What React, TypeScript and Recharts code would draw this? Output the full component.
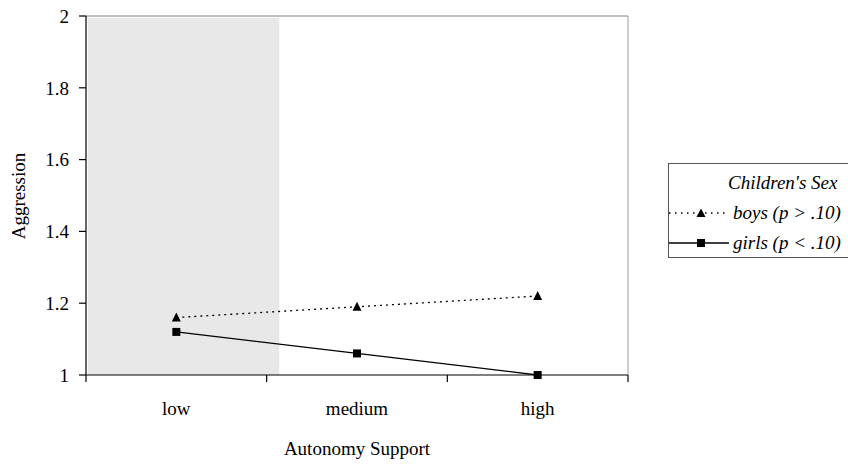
import {
  ComposedChart,
  Line,
  XAxis,
  YAxis,
  ReferenceArea,
  ReferenceLine,
  Label,
} from 'recharts'

const levels = ['low', 'medium', 'high']
const boys = [1.16, 1.19, 1.22]
const girls = [1.12, 1.06, 1.0]
const yTicks = [1, 1.2, 1.4, 1.6, 1.8, 2]
const bandTicks = [0, 1, 2, 3]
const labelTicks = [0.5, 1.5, 2.5]

// each level sits in the middle of its band on a 0..3 axis
const data = levels.map((level, i) => ({ pos: i + 0.5, level, boys: boys[i], girls: girls[i] }))

const serif = 'Liberation Serif'

const Triangle = (props: any) => {
  const { cx, cy } = props
  if (cx == null || cy == null) return null
  return <path d={`M${cx},${cy - 5} L${cx + 4.5},${cy + 4} L${cx - 4.5},${cy + 4} Z`} fill='#000' />
}

const Square = (props: any) => {
  const { cx, cy } = props
  if (cx == null || cy == null) return null
  return <rect x={cx - 4} y={cy - 4} width={8} height={8} fill='#000' />
}

// tick mark only, no text
const BandTick = (props: any) => {
  const { x, y } = props
  return <line x1={x} y1={y - 7} x2={x} y2={y} stroke='#000' strokeWidth={1.2} />
}

function LegendBox() {
  const row = { display: 'flex', alignItems: 'center', height: 30 }
  return (
    <div
      style={{
        position: 'absolute',
        left: 668,
        top: 163,
        width: 210,
        height: 95,
        paddingTop: 4,
        border: '1px solid #555',
        boxSizing: 'border-box',
        background: '#fff',
        fontFamily: serif,
        fontStyle: 'italic',
        fontSize: 19,
        color: '#000',
        whiteSpace: 'nowrap',
      }}
    >
      <div style={{ ...row, paddingLeft: 59 }}>Children's Sex</div>
      <div style={row}>
        <svg width={60} height={12}>
          <line x1={0} y1={6} x2={60} y2={6} stroke='#000' strokeWidth={1.3} strokeDasharray='1.5 4.5' />
          <path d='M32,1.5 L36.5,10 L27.5,10 Z' fill='#000' />
        </svg>
        <span style={{ marginLeft: 4 }}>boys (p &gt; .10)</span>
      </div>
      <div style={row}>
        <svg width={60} height={12}>
          <line x1={0} y1={6} x2={60} y2={6} stroke='#000' strokeWidth={1.3} />
          <rect x={28} y={2} width={8} height={8} fill='#000' />
        </svg>
        <span style={{ marginLeft: 4 }}>girls (p &lt; .10)</span>
      </div>
    </div>
  )
}

export default function App() {
  return (
    <div style={{ position: 'relative', width: 848, height: 464, background: '#fff', overflow: 'hidden' }}>
      <style>{'body{margin:0;overflow:hidden}'}</style>
      <ComposedChart
        width={848}
        height={464}
        data={data}
        margin={{ top: 16, right: 220, left: 0, bottom: 0 }}
      >
        <XAxis
          xAxisId={0}
          dataKey='pos'
          type='number'
          domain={[0, 3]}
          ticks={bandTicks}
          interval={0}
          tick={<BandTick />}
          tickSize={7}
          tickMargin={0}
          height={7}
          axisLine={{ stroke: '#000', strokeWidth: 1.2 }}
          tickLine={false}
        />
        <XAxis
          xAxisId={1}
          dataKey='pos'
          type='number'
          domain={[0, 3]}
          ticks={labelTicks}
          interval={0}
          tickFormatter={(v: number) => levels[Math.floor(v)]}
          height={82}
          axisLine={false}
          tickLine={false}
          tickSize={0}
          tickMargin={20}
          tick={{ fill: '#000', fontFamily: serif, fontSize: 19 }}
        >
          <Label
            value='Autonomy Support'
            position='insideBottom'
            offset={9}
            style={{ fill: '#000', fontFamily: serif, fontSize: 19 }}
          />
        </XAxis>
        <YAxis
          domain={[1, 2]}
          ticks={yTicks}
          width={86}
          tickSize={7}
          tickMargin={10}
          axisLine={{ stroke: '#000', strokeWidth: 1.2 }}
          tickLine={{ stroke: '#000', strokeWidth: 1.2 }}
          tick={{ fill: '#000', fontFamily: serif, fontSize: 19 }}
        >
          <Label
            content={() => (
              <text
                x={25}
                y={196}
                transform='rotate(-90 25 196)'
                textAnchor='middle'
                fill='#000'
                fontFamily={serif}
                fontSize={19}
              >
                Aggression
              </text>
            )}
          />
        </YAxis>
        <ReferenceArea
          xAxisId={0}
          x1={0.01}
          x2={1.07}
          y1={1}
          y2={1.995}
          fill='#e8e8e8'
          fillOpacity={1}
          stroke='none'
        />
        <ReferenceLine y={2} xAxisId={0} stroke='#808080' strokeWidth={1} />
        <ReferenceLine x={3} xAxisId={0} stroke='#a0a0a0' strokeWidth={1} />
        <Line
          xAxisId={0}
          dataKey='boys'
          stroke='#000'
          strokeWidth={1.3}
          strokeDasharray='2 4'
          dot={<Triangle />}
          activeDot={false}
          isAnimationActive={false}
        />
        <Line
          xAxisId={0}
          dataKey='girls'
          stroke='#000'
          strokeWidth={1.3}
          dot={<Square />}
          activeDot={false}
          isAnimationActive={false}
        />
      </ComposedChart>
      <LegendBox />
    </div>
  )
}
